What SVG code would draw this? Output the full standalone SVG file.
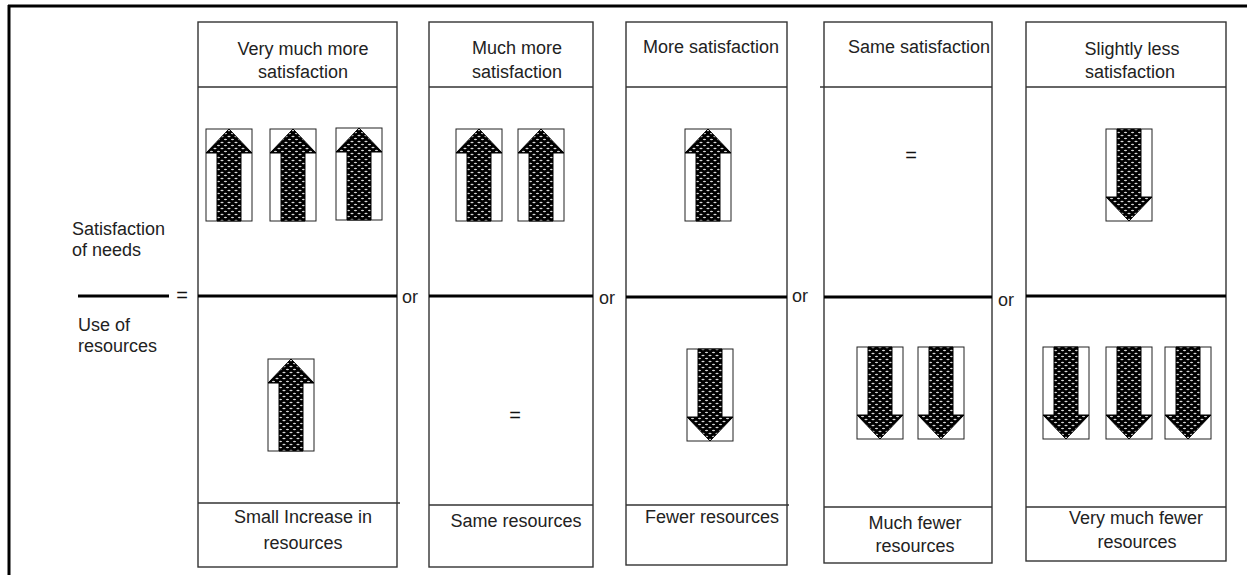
<svg xmlns="http://www.w3.org/2000/svg" xmlns:xlink="http://www.w3.org/1999/xlink" width="1247" height="575" viewBox="0 0 1247 575">
  <style>
    .txt { font-family: "Liberation Sans", Arial, sans-serif; font-size: 18px; fill: #222; }
    .mid { text-anchor: middle; }
    .eq { font-family: "Liberation Sans", Arial, sans-serif; font-size: 20px; fill: #111; text-anchor: middle; }
    .col { fill: none; stroke: #333; stroke-width: 1.4; }
    .sep { stroke: #333; stroke-width: 1.4; }
    .bar { stroke: #000; stroke-width: 3.2; }
    .frame { stroke: #000; stroke-width: 3; fill: none; }
    .box { fill: #fff; stroke: #222; stroke-width: 1; }
    .shape { fill: url(#dots); stroke: #000; stroke-width: 1; stroke-linejoin: miter; }
  </style>
  <defs>
    <!-- dark stipple used to fill the arrows -->
    <pattern id="dots" width="7" height="6" patternUnits="userSpaceOnUse">
      <rect width="7" height="6" fill="#000"/>
      <ellipse cx="2" cy="1.5" rx="1.6" ry="0.7" fill="#d8d8d8"/>
      <ellipse cx="5.5" cy="4.5" rx="1.6" ry="0.7" fill="#d8d8d8"/>
    </pattern>
    <!-- framed arrow, 46 x 92, pointing up -->
    <g id="up">
      <rect class="box" x="0" y="0" width="46" height="92"/>
      <polygon class="shape" points="11,92 11,24 0,24 23,0 46,24 35,24 35,92"/>
    </g>
    <!-- same arrow pointing down -->
    <g id="down">
      <use xlink:href="#up" transform="rotate(180 23 46)"/>
    </g>
  </defs>

  <!-- outer frame (top and left edges) -->
  <g id="frame">
    <line class="frame" x1="8" y1="6" x2="1247" y2="6"/>
    <line class="frame" x1="9" y1="5" x2="9" y2="575"/>
  </g>

  <!-- ratio legend on the left -->
  <g id="legend">
    <text class="txt" x="72" y="235">Satisfaction</text>
    <text class="txt" x="72" y="256">of needs</text>
    <line class="bar" x1="78" y1="296" x2="169" y2="296"/>
    <text class="eq" x="182" y="302">=</text>
    <text class="txt" x="78" y="331">Use of</text>
    <text class="txt" x="78" y="352">resources</text>
  </g>

  <!-- option 1 -->
  <g id="col-very-much-more">
    <rect class="col" x="198" y="22" width="199" height="545"/>
    <line class="sep" x1="198" y1="87" x2="397" y2="87"/>
    <line class="sep" x1="198" y1="503" x2="400" y2="503"/>
    <line class="bar" x1="198" y1="296" x2="397" y2="296"/>
    <text class="txt mid" x="303" y="55">Very much more</text>
    <text class="txt mid" x="303" y="78">satisfaction</text>
    <use xlink:href="#up" x="206" y="129"/>
    <use xlink:href="#up" x="270" y="129"/>
    <use xlink:href="#up" x="336" y="128"/>
    <use xlink:href="#up" x="268" y="359"/>
    <text class="txt mid" x="303" y="523">Small Increase in</text>
    <text class="txt mid" x="303" y="549">resources</text>
  </g>

  <!-- option 2 -->
  <g id="col-much-more">
    <rect class="col" x="429" y="22" width="164" height="545"/>
    <line class="sep" x1="429" y1="87" x2="593" y2="87"/>
    <line class="sep" x1="429" y1="505" x2="593" y2="505"/>
    <line class="bar" x1="429" y1="296" x2="593" y2="296"/>
    <text class="txt mid" x="517" y="54">Much more</text>
    <text class="txt mid" x="517" y="78">satisfaction</text>
    <use xlink:href="#up" x="456" y="129"/>
    <use xlink:href="#up" x="518" y="129"/>
    <text class="eq" x="515" y="422">=</text>
    <text class="txt mid" x="516" y="527">Same resources</text>
  </g>

  <!-- option 3 -->
  <g id="col-more">
    <rect class="col" x="626" y="22" width="161" height="543"/>
    <line class="sep" x1="626" y1="87" x2="787" y2="87"/>
    <line class="sep" x1="626" y1="505" x2="789" y2="505"/>
    <line class="bar" x1="626" y1="297" x2="787" y2="297"/>
    <text class="txt mid" x="711" y="53">More satisfaction</text>
    <use xlink:href="#up" x="685" y="129"/>
    <use xlink:href="#down" x="687" y="349"/>
    <text class="txt mid" x="712" y="523">Fewer resources</text>
  </g>

  <!-- option 4 -->
  <g id="col-same">
    <rect class="col" x="824" y="22" width="168" height="541"/>
    <line class="sep" x1="820" y1="87" x2="992" y2="87"/>
    <line class="sep" x1="824" y1="507" x2="992" y2="507"/>
    <line class="bar" x1="824" y1="297" x2="992" y2="297"/>
    <text class="txt mid" x="919" y="53">Same satisfaction</text>
    <text class="eq" x="911" y="162">=</text>
    <use xlink:href="#down" x="857" y="347"/>
    <use xlink:href="#down" x="918" y="347"/>
    <text class="txt mid" x="915" y="529">Much fewer</text>
    <text class="txt mid" x="915" y="552">resources</text>
  </g>

  <!-- option 5 -->
  <g id="col-slightly-less">
    <rect class="col" x="1026" y="22" width="200" height="539"/>
    <line class="sep" x1="1026" y1="87" x2="1226" y2="87"/>
    <line class="sep" x1="1026" y1="507" x2="1226" y2="507"/>
    <line class="bar" x1="1026" y1="296" x2="1226" y2="296"/>
    <text class="txt mid" x="1132" y="55">Slightly less</text>
    <text class="txt mid" x="1130" y="78">satisfaction</text>
    <use xlink:href="#down" x="1106" y="129"/>
    <use xlink:href="#down" x="1043" y="347"/>
    <use xlink:href="#down" x="1106" y="347"/>
    <use xlink:href="#down" x="1165" y="347"/>
    <text class="txt mid" x="1136" y="524">Very much fewer</text>
    <text class="txt mid" x="1137" y="548">resources</text>
  </g>

  <!-- "or" joins between the options -->
  <g id="joins">
    <text class="txt" x="402" y="303">or</text>
    <text class="txt" x="599" y="304">or</text>
    <text class="txt" x="792" y="302">or</text>
    <text class="txt" x="998" y="306">or</text>
  </g>
</svg>
